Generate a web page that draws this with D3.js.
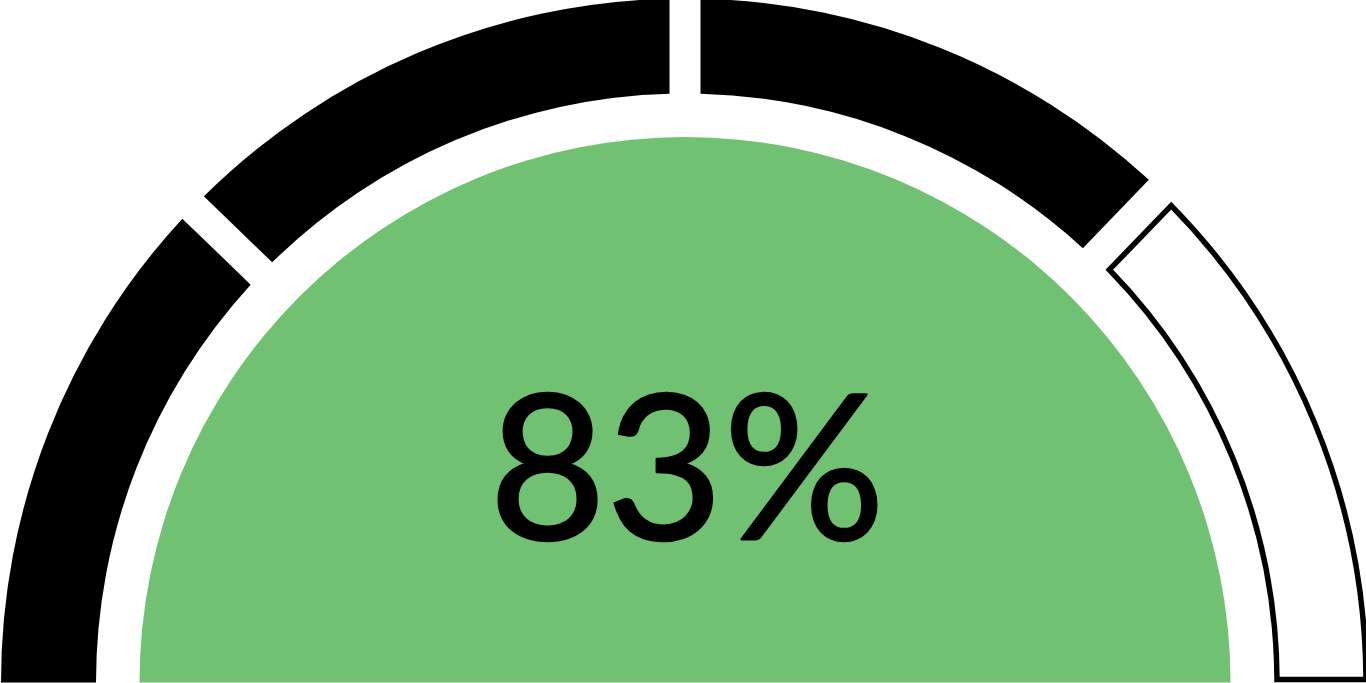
<!DOCTYPE html>
<html>
    <head>
        <script src="https://d3js.org/d3.v7.min.js" charset="utf-8"></script>
        <style>
            html, body { margin: 0; padding: 0; background: #fff; overflow: hidden; }
        </style>
    </head>
    <body>
        <svg id="gauge" width="1366" height="683"></svg>
    </body>
    <script>
        // gauge data
        var segmentNames = ["s1", "s2", "s3", "s4"];
        var segmentBounds = [0, 44, 90, 134, 180]; // degrees along the half circle
        var segmentFilled = [true, true, true, false];
        var scoreValue = 83;
        var scoreLabel = scoreValue + "%";

        var svg = d3.select('#gauge'),
            width = +svg.attr('width'),
            height = +svg.attr('height'),
            cx = 685,
            cy = 682.5,
            rOuter = 684,
            rInner = 589,
            rCenter = 545.5,
            gap = 31;

        // degrees -> d3 style angle (0 at top, clockwise)
        var angle = d3.scaleLinear().domain([0, 180]).range([-Math.PI / 2, Math.PI / 2]);

        // segment path with parallel (constant width) gaps
        function segmentPath(a0, a1, r0, r1, d0, d1) {
            var p = d3.path();
            function pt(r, a) { return [cx + r * Math.sin(a), cy - r * Math.cos(a)]; }
            var oS = a0 + Math.asin(d0 / r1), oE = a1 - Math.asin(d1 / r1);
            var iS = a0 + Math.asin(d0 / r0), iE = a1 - Math.asin(d1 / r0);
            var s = pt(r1, oS);
            p.moveTo(s[0], s[1]);
            p.arc(cx, cy, r1, oS - Math.PI / 2, oE - Math.PI / 2, false);
            var e = pt(r0, iE);
            p.lineTo(e[0], e[1]);
            p.arc(cx, cy, r0, iE - Math.PI / 2, iS - Math.PI / 2, true);
            p.closePath();
            return p.toString();
        }

        var segs = segmentNames.map(function(name, i) {
            return {
                name: name,
                a0: angle(segmentBounds[i]),
                a1: angle(segmentBounds[i + 1]),
                first: i === 0,
                last: i === segmentNames.length - 1,
                filled: segmentFilled[i]
            };
        });

        // green centre half disc
        svg.append('path')
            .attr('d', d3.arc()({innerRadius: 0, outerRadius: rCenter, startAngle: -Math.PI / 2, endAngle: Math.PI / 2}))
            .attr('transform', 'translate(' + cx + ',' + cy + ')')
            .attr('fill', '#70c172');

        var inset = 3;
        svg.selectAll('path.seg')
            .data(segs)
            .enter().append('path')
            .attr('class', 'seg')
            .attr('d', function(d) {
                var k = d.filled ? 0 : inset;
                var d0 = (d.first ? 0 : gap / 2) + k;
                var d1 = (d.last ? 0 : gap / 2) + k;
                return segmentPath(d.a0, d.a1, rInner + k, rOuter - k, d0, d1);
            })
            .attr('fill', function(d) { return d.filled ? '#000' : '#fff'; })
            .attr('stroke', function(d) { return d.filled ? 'none' : '#000'; })
            .attr('stroke-width', 5.5)
            .attr('stroke-linejoin', 'miter');

        // score label, slight stroke to match heavier glyphs
        svg.append('text')
            .attr('x', cx + 2)
            .attr('y', 539)
            .attr('text-anchor', 'middle')
            .attr('font-family', 'Lato, sans-serif')
            .attr('font-size', 202)
            .attr('fill', '#000')
            .attr('stroke', '#000')
            .attr('stroke-width', 2.5)
            .attr('stroke-linejoin', 'round')
            .text(scoreLabel);
    </script>
</html>
